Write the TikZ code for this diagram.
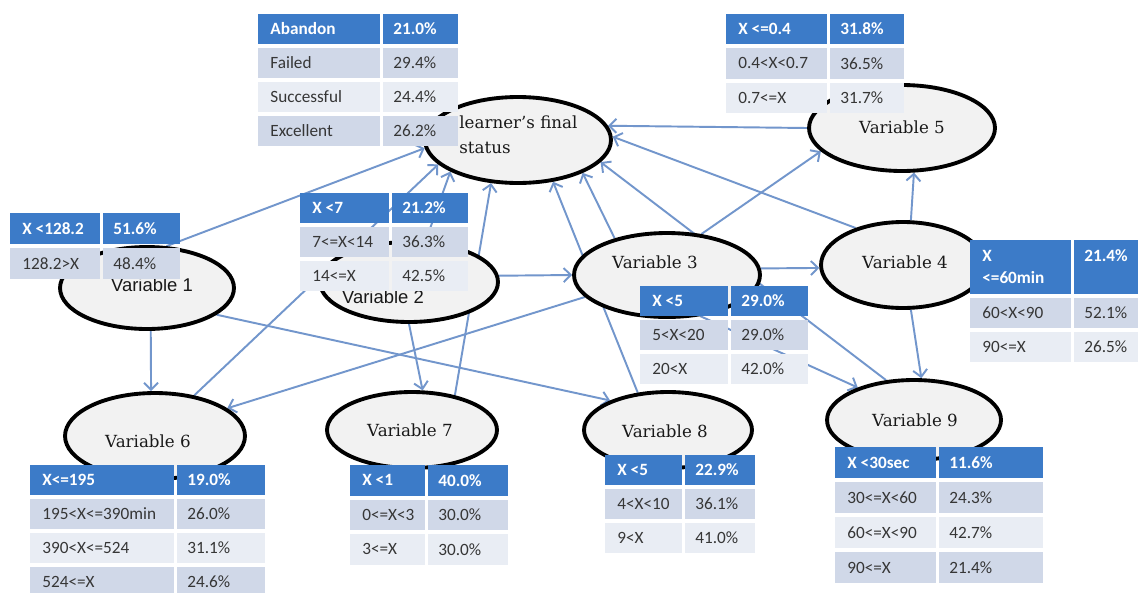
\documentclass[tikz,border=0pt]{standalone}
\usepackage{fontspec}
\setmainfont{DejaVu Serif}
\newfontfamily\cellfont{Carlito}
\newfontfamily\labsans{Liberation Sans}
\usetikzlibrary{shapes.geometric,arrows.meta}

\definecolor{hdr}{HTML}{3C7BC8}
\definecolor{rowa}{HTML}{D0D8E8}
\definecolor{rowb}{HTML}{E9EDF4}
\definecolor{celltxt}{HTML}{363636}
\definecolor{linkblue}{HTML}{7296CC}
\definecolor{ellfill}{HTML}{F2F2F2}

\pgfdeclarelayer{bg}
\pgfsetlayers{bg,main}

\tikzset{
	var/.style={ellipse, draw=black, line width=2.2pt, fill=ellfill, inner sep=0pt},
	vlabel/.style={inner sep=0pt, text=black!90, font=\fontsize{9.5}{14.5}\selectfont},
	vsans/.style={vlabel, font=\labsans\fontsize{10.5}{12}\selectfont},
	link/.style={draw=linkblue, line width=1.1pt, -{Straight Barb[length=4pt,width=8pt]}},
	cell/.style={anchor=west, inner sep=0pt, align=left, text=celltxt, font=\cellfont\fontsize{9.8}{13}\selectfont},
	headcell/.style={cell, text=white, font=\cellfont\bfseries\fontsize{9.8}{13}\selectfont}
}

% name, left x, divider x, right x, top y, header pitch, row pitch, rows
\newcommand{\probtab}[8]{
	\foreach [count=\r from 0] \a/\b in {#8}{
		\pgfmathsetmacro{\ya}{\r==0 ? #5 : #5+#6+(\r-1)*#7}
		\pgfmathsetmacro{\yb}{\r==0 ? #5+#6-4 : \ya+#7-4}
		\ifnum\r=0 \def\cc{hdr}\def\ts{headcell}\else\ifodd\r\def\cc{rowa}\else\def\cc{rowb}\fi\def\ts{cell}\fi
		\fill[\cc] (#2,\ya) rectangle (#3-1.5,\yb);
		\fill[\cc] (#3+1.5,\ya) rectangle (#4,\yb);
		\node[\ts] (#1-\r-a) at (#2+12,{(\ya+\yb)/2}) {\a};
		\node[\ts] (#1-\r-b) at (#3+12,{(\ya+\yb)/2}) {\b};
	}
}

\begin{document}
\begin{tikzpicture}[x=0.02cm, y=-0.02cm]
	\useasboundingbox (0,0) rectangle (1138,592);
	\clip (0,0) rectangle (1138,592);

	%ellipses
	\node[var, minimum width=3.72cm, minimum height=1.72cm] (fin) at (518,140) {};
	\node[var, minimum width=3.48cm, minimum height=1.64cm] (v1) at (147,288) {};
	\node[var, minimum width=3.56cm, minimum height=1.60cm] (v2) at (409,282) {};
	\node[var, minimum width=3.72cm, minimum height=1.68cm] (v3) at (667,275) {};
	\node[var, minimum width=3.28cm, minimum height=1.72cm] (v4) at (903,265) {};
	\node[var, minimum width=3.72cm, minimum height=1.72cm] (v5) at (902,128) {};
	\node[var, minimum width=3.60cm, minimum height=1.72cm] (v6) at (155,436) {};
	\node[var, minimum width=3.40cm, minimum height=1.52cm] (v7) at (412,430) {};
	\node[var, minimum width=3.36cm, minimum height=1.52cm] (v8) at (668,430) {};
	\node[var, minimum width=3.48cm, minimum height=1.60cm] (v9) at (914,420) {};

	%ellipse texts
	\node[vlabel, anchor=west, align=left] (fin-t) at (459,135) {learner’s final\\status};
	\node[vsans] (v1-t) at (152,285) {Variable 1};
	\node[vsans] (v2-t) at (383,297) {Variable 2};
	\node[vlabel] (v3-t) at (655,262) {Variable 3};
	\node[vlabel] (v4-t) at (905,262) {Variable 4};
	\node[vlabel] (v5-t) at (902,127) {Variable 5};
	\node[vlabel] (v6-t) at (148,441) {Variable 6};
	\node[vlabel] (v7-t) at (410,430) {Variable 7};
	\node[vlabel] (v8-t) at (665,431) {Variable 8};
	\node[vlabel] (v9-t) at (915,420) {Variable 9};

	%links
	\begin{pgfonlayer}{bg}
		\fill[white] (0,0) rectangle (1138,592);
		\draw[link] (v5.180) -- (fin.9);
		\draw[link] (v4.142) -- (fin.2);
		\draw[link] (v3.50) -- (v5.196);
		\draw[link] (v4.80) -- (v5.285);
		\draw[link] (v3.4) -- (v4.182);
		\draw[link] (v2.4) -- (v3.west);
		\draw[link] (v3.145) -- (fin.333);
		\draw[link] (v8.129) -- (fin.310);
		\draw[link] (v9.125) -- (fin.345);
		\draw[link] (v7.39) -- (fin.238);
		\draw[link] (v6.46) -- (fin.197);
		\draw[link] (v2.68) -- (fin.205);
		\draw[link] (v1.65) -- (fin.185);
		\draw[link] (v1.275) -- (v6.95);
		\draw[link] (v1.339) -- (v8.153);
		\draw[link] (v3.195) -- (v6.21);
		\draw[link] (v2.south) -- (v7.75);
		\draw[link] (v3.309) -- (v9.150);
		\draw[link] (v4.280) -- (v9.80);
	\end{pgfonlayer}

	%tables
	\probtab{tfin}{258}{381}{458}{14}{34}{34}{Abandon/21.0\%, Failed/29.4\%, Successful/24.4\%, Excellent/26.2\%}
	\probtab{tv5}{726}{828}{904}{14}{34}{34.5}{X <=0.4/31.8\%, 0.4<X<0.7/36.5\%, 0.7<=X/31.7\%}
	\probtab{tv1}{10}{101}{180}{213}{35}{35}{X <128.2/51.6\%, 128.2>X/48.4\%}
	\probtab{tv2}{300}{390}{468}{193}{34}{34}{X <7/21.2\%, 7<=X<14/36.3\%, 14<=X/42.5\%}
	\probtab{tv3}{640}{729}{808}{286}{34}{34}{X <5/29.0\%, 5<X<20/29.0\%, 20<X/42.0\%}
	\probtab{tv4}{970}{1072}{1150}{240}{58}{34}{X\\<=60min/21.4\%\\\mbox{}, 60<X<90/52.1\%, 90<=X/26.5\%}
	\probtab{tv6}{30}{175}{265}{465}{34}{34}{X<=195/19.0\%, 195<X<=390min/26.0\%, 390<X<=524/31.1\%, 524<=X/24.6\%}
	\probtab{tv7}{350}{426}{508}{465}{34.5}{34.5}{X <1/40.0\%, 0<=X<3/30.0\%, 3<=X/30.0\%}
	\probtab{tv8}{605}{683}{755}{455}{34}{34}{X <5/22.9\%, 4<X<10/36.1\%, 9<X/41.0\%}
	\probtab{tv9}{835}{937}{1043}{447}{35}{35}{X <30sec/11.6\%, 30<=X<60/24.3\%, 60<=X<90/42.7\%, 90<=X/21.4\%}

\end{tikzpicture}
\end{document}
